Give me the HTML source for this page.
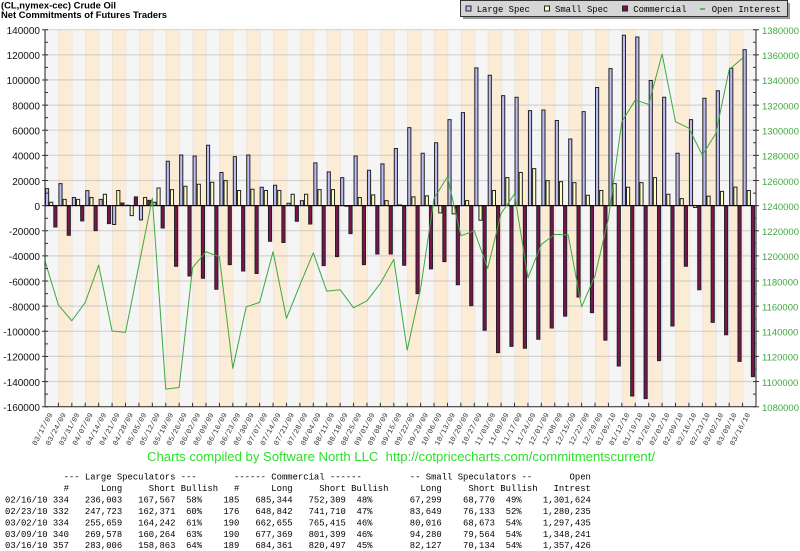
<!DOCTYPE html>
<html><head><meta charset="utf-8"><style>
html,body{margin:0;padding:0;background:#fff;}
svg{display:block;}
.bars rect{vector-effect:non-scaling-stroke;stroke:#222;stroke-width:1;}
.l{fill:#bcbcf4;} .s{fill:#ffffc4;} .c{fill:#7a1450;}
.xl text{font-family:"Liberation Mono",monospace;font-size:7.4px;fill:#333;text-anchor:end;}
.ly text{font-family:"Liberation Sans",sans-serif;font-size:10px;fill:#111;text-anchor:end;}
.ry text{font-family:"Liberation Sans",sans-serif;font-size:9.5px;fill:#3ea83e;}
.tb text{font-family:"Liberation Mono",monospace;font-size:8.9px;fill:#000;white-space:pre;}
.lg text{font-family:"Liberation Mono",monospace;font-size:8.9px;fill:#000;}
</style></head><body>
<svg width="800" height="551" viewBox="0 0 800 551" xmlns="http://www.w3.org/2000/svg">
<defs>
<pattern id="bg" patternUnits="userSpaceOnUse" x="45" y="0" width="26.83" height="551">
<rect x="0" y="0" width="13.415" height="551" fill="#f5f5f5"/>
<rect x="13.415" y="0" width="13.415" height="551" fill="#fdecd5"/>
<rect x="0" y="0" width="0.8" height="551" fill="#e6e6e6"/>
<rect x="13.415" y="0" width="0.8" height="551" fill="#ebe3d6"/>
</pattern>
</defs>
<!-- Title -->
<text x="1" y="8.5" font-family="Liberation Sans, sans-serif" font-size="9" font-weight="bold" textLength="115" lengthAdjust="spacingAndGlyphs" fill="#000">(CL,nymex-cec) Crude Oil</text>
<text x="1" y="18" font-family="Liberation Sans, sans-serif" font-size="9" font-weight="bold" textLength="166" lengthAdjust="spacingAndGlyphs" fill="#000">Net Commitments of Futures Traders</text>

<!-- Legend -->
<g class="lg">
<rect x="463" y="3" width="327" height="16" fill="#9a9a9a"/>
<rect x="460.5" y="0.5" width="327" height="16" fill="#d6d6d6" stroke="#333" stroke-width="1"/>
<rect x="466" y="6" width="5" height="5" fill="#bcbcf4" stroke="#222"/>
<text x="476.7" y="12">Large Spec</text>
<rect x="544.5" y="6" width="5" height="5" fill="#ffffc4" stroke="#222"/>
<text x="555" y="12">Small Spec</text>
<rect x="622.5" y="6" width="5" height="5" fill="#7a1450" stroke="#222"/>
<text x="633.3" y="12">Commercial</text>
<line x1="700" y1="9" x2="705" y2="9" stroke="#3ea83e" stroke-width="1.5"/>
<text x="711.7" y="12">Open Interest</text>
</g>

<!-- Plot background -->
<rect x="45" y="29.7" width="711" height="377" fill="url(#bg)"/>
<!-- horizontal gridlines -->
<g stroke="rgba(170,170,170,0.45)" stroke-width="1.2">
<line x1="45" x2="756" y1="29.7" y2="29.7"/>
<line x1="45" x2="756" y1="54.8" y2="54.8"/>
<line x1="45" x2="756" y1="79.9" y2="79.9"/>
<line x1="45" x2="756" y1="105.1" y2="105.1"/>
<line x1="45" x2="756" y1="130.2" y2="130.2"/>
<line x1="45" x2="756" y1="155.3" y2="155.3"/>
<line x1="45" x2="756" y1="180.5" y2="180.5"/>
<line x1="45" x2="756" y1="230.7" y2="230.7"/>
<line x1="45" x2="756" y1="255.9" y2="255.9"/>
<line x1="45" x2="756" y1="281.0" y2="281.0"/>
<line x1="45" x2="756" y1="306.1" y2="306.1"/>
<line x1="45" x2="756" y1="331.3" y2="331.3"/>
<line x1="45" x2="756" y1="356.4" y2="356.4"/>
<line x1="45" x2="756" y1="381.5" y2="381.5"/>
</g>

<!-- Bars -->
<g class="bars" transform="translate(45 205.6) scale(13.415 -1.25667)">
<g transform="translate(0)"><rect class="l" x=".037" width=".235" y="0" height="13.5"/><rect class="s" x=".347" width=".235" y="0" height="2.7"/><rect class="c" x=".656" width=".235" y="-17" height="17"/></g>
<g transform="translate(1)"><rect class="l" x=".037" width=".235" y="0" height="17.5"/><rect class="s" x=".347" width=".235" y="0" height="5"/><rect class="c" x=".656" width=".235" y="-23.6" height="23.6"/></g>
<g transform="translate(2)"><rect class="l" x=".037" width=".235" y="0" height="6.4"/><rect class="s" x=".347" width=".235" y="0" height="5"/><rect class="c" x=".656" width=".235" y="-12.2" height="12.2"/></g>
<g transform="translate(3)"><rect class="l" x=".037" width=".235" y="0" height="11.9"/><rect class="s" x=".347" width=".235" y="0" height="6.4"/><rect class="c" x=".656" width=".235" y="-19.9" height="19.9"/></g>
<g transform="translate(4)"><rect class="l" x=".037" width=".235" y="0" height="5"/><rect class="s" x=".347" width=".235" y="0" height="9"/><rect class="c" x=".656" width=".235" y="-14.3" height="14.3"/></g>
<g transform="translate(5)"><rect class="l" x=".037" width=".235" y="-15" height="15"/><rect class="s" x=".347" width=".235" y="0" height="12"/><rect class="c" x=".656" width=".235" y="0" height="2.1"/></g>
<g transform="translate(6)"><rect class="l" x=".037" width=".235" y="0" height="0.3"/><rect class="s" x=".347" width=".235" y="-8" height="8"/><rect class="c" x=".656" width=".235" y="0" height="6.9"/></g>
<g transform="translate(7)"><rect class="l" x=".037" width=".235" y="-11.4" height="11.4"/><rect class="s" x=".347" width=".235" y="0" height="6.4"/><rect class="c" x=".656" width=".235" y="0" height="4.2"/></g>
<g transform="translate(8)"><rect class="l" x=".037" width=".235" y="0" height="2.7"/><rect class="s" x=".347" width=".235" y="0" height="14"/><rect class="c" x=".656" width=".235" y="-17.8" height="17.8"/></g>
<g transform="translate(9)"><rect class="l" x=".037" width=".235" y="0" height="35.3"/><rect class="s" x=".347" width=".235" y="0" height="12.7"/><rect class="c" x=".656" width=".235" y="-48.3" height="48.3"/></g>
<g transform="translate(10)"><rect class="l" x=".037" width=".235" y="0" height="40.3"/><rect class="s" x=".347" width=".235" y="0" height="15.4"/><rect class="c" x=".656" width=".235" y="-56" height="56"/></g>
<g transform="translate(11)"><rect class="l" x=".037" width=".235" y="0" height="39.5"/><rect class="s" x=".347" width=".235" y="0" height="17"/><rect class="c" x=".656" width=".235" y="-57.8" height="57.8"/></g>
<g transform="translate(12)"><rect class="l" x=".037" width=".235" y="0" height="48"/><rect class="s" x=".347" width=".235" y="0" height="18.6"/><rect class="c" x=".656" width=".235" y="-66.6" height="66.6"/></g>
<g transform="translate(13)"><rect class="l" x=".037" width=".235" y="0" height="26.3"/><rect class="s" x=".347" width=".235" y="0" height="19.9"/><rect class="c" x=".656" width=".235" y="-47" height="47"/></g>
<g transform="translate(14)"><rect class="l" x=".037" width=".235" y="0" height="39"/><rect class="s" x=".347" width=".235" y="0" height="12"/><rect class="c" x=".656" width=".235" y="-52" height="52"/></g>
<g transform="translate(15)"><rect class="l" x=".037" width=".235" y="0" height="40.3"/><rect class="s" x=".347" width=".235" y="0" height="13"/><rect class="c" x=".656" width=".235" y="-54" height="54"/></g>
<g transform="translate(16)"><rect class="l" x=".037" width=".235" y="0" height="14.6"/><rect class="s" x=".347" width=".235" y="0" height="12"/><rect class="c" x=".656" width=".235" y="-28.4" height="28.4"/></g>
<g transform="translate(17)"><rect class="l" x=".037" width=".235" y="0" height="16.2"/><rect class="s" x=".347" width=".235" y="0" height="12"/><rect class="c" x=".656" width=".235" y="-29.4" height="29.4"/></g>
<g transform="translate(18)"><rect class="l" x=".037" width=".235" y="0" height="1.9"/><rect class="s" x=".347" width=".235" y="0" height="9"/><rect class="c" x=".656" width=".235" y="-12.5" height="12.5"/></g>
<g transform="translate(19)"><rect class="l" x=".037" width=".235" y="0" height="4"/><rect class="s" x=".347" width=".235" y="0" height="9"/><rect class="c" x=".656" width=".235" y="-14.6" height="14.6"/></g>
<g transform="translate(20)"><rect class="l" x=".037" width=".235" y="0" height="34"/><rect class="s" x=".347" width=".235" y="0" height="12.7"/><rect class="c" x=".656" width=".235" y="-47.8" height="47.8"/></g>
<g transform="translate(21)"><rect class="l" x=".037" width=".235" y="0" height="26.8"/><rect class="s" x=".347" width=".235" y="0" height="12.7"/><rect class="c" x=".656" width=".235" y="-40.6" height="40.6"/></g>
<g transform="translate(22)"><rect class="l" x=".037" width=".235" y="0" height="22.3"/><rect class="s" x=".347" width=".235" y="-0.5" height="0.5"/><rect class="c" x=".656" width=".235" y="-22.3" height="22.3"/></g>
<g transform="translate(23)"><rect class="l" x=".037" width=".235" y="0" height="39.5"/><rect class="s" x=".347" width=".235" y="0" height="6.4"/><rect class="c" x=".656" width=".235" y="-47" height="47"/></g>
<g transform="translate(24)"><rect class="l" x=".037" width=".235" y="0" height="28.1"/><rect class="s" x=".347" width=".235" y="0" height="8.5"/><rect class="c" x=".656" width=".235" y="-38.5" height="38.5"/></g>
<g transform="translate(25)"><rect class="l" x=".037" width=".235" y="0" height="33.2"/><rect class="s" x=".347" width=".235" y="0" height="4"/><rect class="c" x=".656" width=".235" y="-38.5" height="38.5"/></g>
<g transform="translate(26)"><rect class="l" x=".037" width=".235" y="0" height="45.4"/><rect class="s" x=".347" width=".235" y="0" height="0.5"/><rect class="c" x=".656" width=".235" y="-47.5" height="47.5"/></g>
<g transform="translate(27)"><rect class="l" x=".037" width=".235" y="0" height="62"/><rect class="s" x=".347" width=".235" y="0" height="6.9"/><rect class="c" x=".656" width=".235" y="-70" height="70"/></g>
<g transform="translate(28)"><rect class="l" x=".037" width=".235" y="0" height="41.7"/><rect class="s" x=".347" width=".235" y="0" height="7.7"/><rect class="c" x=".656" width=".235" y="-50.4" height="50.4"/></g>
<g transform="translate(29)"><rect class="l" x=".037" width=".235" y="0" height="50"/><rect class="s" x=".347" width=".235" y="-5.8" height="5.8"/><rect class="c" x=".656" width=".235" y="-44.6" height="44.6"/></g>
<g transform="translate(30)"><rect class="l" x=".037" width=".235" y="0" height="68.4"/><rect class="s" x=".347" width=".235" y="-6.6" height="6.6"/><rect class="c" x=".656" width=".235" y="-63" height="63"/></g>
<g transform="translate(31)"><rect class="l" x=".037" width=".235" y="0" height="74"/><rect class="s" x=".347" width=".235" y="0" height="4"/><rect class="c" x=".656" width=".235" y="-79.6" height="79.6"/></g>
<g transform="translate(32)"><rect class="l" x=".037" width=".235" y="0" height="109.6"/><rect class="s" x=".347" width=".235" y="-11.7" height="11.7"/><rect class="c" x=".656" width=".235" y="-99.2" height="99.2"/></g>
<g transform="translate(33)"><rect class="l" x=".037" width=".235" y="0" height="103.7"/><rect class="s" x=".347" width=".235" y="0" height="12"/><rect class="c" x=".656" width=".235" y="-117" height="117"/></g>
<g transform="translate(34)"><rect class="l" x=".037" width=".235" y="0" height="87.5"/><rect class="s" x=".347" width=".235" y="0" height="22.3"/><rect class="c" x=".656" width=".235" y="-112" height="112"/></g>
<g transform="translate(35)"><rect class="l" x=".037" width=".235" y="0" height="86.2"/><rect class="s" x=".347" width=".235" y="0" height="26.3"/><rect class="c" x=".656" width=".235" y="-113.5" height="113.5"/></g>
<g transform="translate(36)"><rect class="l" x=".037" width=".235" y="0" height="75.6"/><rect class="s" x=".347" width=".235" y="0" height="29.4"/><rect class="c" x=".656" width=".235" y="-106.4" height="106.4"/></g>
<g transform="translate(37)"><rect class="l" x=".037" width=".235" y="0" height="76.1"/><rect class="s" x=".347" width=".235" y="0" height="19.9"/><rect class="c" x=".656" width=".235" y="-97.4" height="97.4"/></g>
<g transform="translate(38)"><rect class="l" x=".037" width=".235" y="0" height="67.7"/><rect class="s" x=".347" width=".235" y="0" height="19.1"/><rect class="c" x=".656" width=".235" y="-88" height="88"/></g>
<g transform="translate(39)"><rect class="l" x=".037" width=".235" y="0" height="53"/><rect class="s" x=".347" width=".235" y="0" height="18.3"/><rect class="c" x=".656" width=".235" y="-72.7" height="72.7"/></g>
<g transform="translate(40)"><rect class="l" x=".037" width=".235" y="0" height="74.8"/><rect class="s" x=".347" width=".235" y="0" height="8.2"/><rect class="c" x=".656" width=".235" y="-85.2" height="85.2"/></g>
<g transform="translate(41)"><rect class="l" x=".037" width=".235" y="0" height="94"/><rect class="s" x=".347" width=".235" y="0" height="12"/><rect class="c" x=".656" width=".235" y="-107" height="107"/></g>
<g transform="translate(42)"><rect class="l" x=".037" width=".235" y="0" height="109"/><rect class="s" x=".347" width=".235" y="0" height="17.5"/><rect class="c" x=".656" width=".235" y="-127.6" height="127.6"/></g>
<g transform="translate(43)"><rect class="l" x=".037" width=".235" y="0" height="135.6"/><rect class="s" x=".347" width=".235" y="0" height="14.6"/><rect class="c" x=".656" width=".235" y="-151.5" height="151.5"/></g>
<g transform="translate(44)"><rect class="l" x=".037" width=".235" y="0" height="134.2"/><rect class="s" x=".347" width=".235" y="0" height="18.3"/><rect class="c" x=".656" width=".235" y="-153.6" height="153.6"/></g>
<g transform="translate(45)"><rect class="l" x=".037" width=".235" y="0" height="99.5"/><rect class="s" x=".347" width=".235" y="0" height="22.3"/><rect class="c" x=".656" width=".235" y="-123.4" height="123.4"/></g>
<g transform="translate(46)"><rect class="l" x=".037" width=".235" y="0" height="86.2"/><rect class="s" x=".347" width=".235" y="0" height="9"/><rect class="c" x=".656" width=".235" y="-95.8" height="95.8"/></g>
<g transform="translate(47)"><rect class="l" x=".037" width=".235" y="0" height="41.7"/><rect class="s" x=".347" width=".235" y="0" height="5.6"/><rect class="c" x=".656" width=".235" y="-48.3" height="48.3"/></g>
<g transform="translate(48)"><rect class="l" x=".037" width=".235" y="0" height="68.4"/><rect class="s" x=".347" width=".235" y="-1.5" height="1.5"/><rect class="c" x=".656" width=".235" y="-67" height="67"/></g>
<g transform="translate(49)"><rect class="l" x=".037" width=".235" y="0" height="85.4"/><rect class="s" x=".347" width=".235" y="0" height="7.5"/><rect class="c" x=".656" width=".235" y="-92.9" height="92.9"/></g>
<g transform="translate(50)"><rect class="l" x=".037" width=".235" y="0" height="91.4"/><rect class="s" x=".347" width=".235" y="0" height="11.3"/><rect class="c" x=".656" width=".235" y="-102.8" height="102.8"/></g>
<g transform="translate(51)"><rect class="l" x=".037" width=".235" y="0" height="109.3"/><rect class="s" x=".347" width=".235" y="0" height="14.7"/><rect class="c" x=".656" width=".235" y="-124" height="124"/></g>
<g transform="translate(52)"><rect class="l" x=".037" width=".235" y="0" height="124.1"/><rect class="s" x=".347" width=".235" y="0" height="12"/><rect class="c" x=".656" width=".235" y="-136.1" height="136.1"/></g>
</g>

<!-- zero line -->
<line x1="45" x2="756" y1="205.6" y2="205.6" stroke="#000" stroke-width="1"/>

<!-- Open interest line -->
<g transform="translate(45 1763.9) scale(13.415 -1.25667)">
<polyline fill="none" stroke="#3ea83e" stroke-width="1" vector-effect="non-scaling-stroke" stroke-linejoin="round" points="0,1195.9 1,1160.9 2,1148.4 3,1163 4,1192.7 5,1140.2 6,1139.1 7,1192.7 8,1246 9,1094 10,1095.3 11,1190.6 12,1203.3 13,1199.3 14,1110.5 15,1159.5 16,1163 17,1203.3 18,1150.3 19,1176.8 20,1202.5 21,1172 22,1173.1 23,1158.7 24,1164.3 25,1178.1 26,1197.2 27,1125 28,1174.1 29,1245.8 30,1263 31,1216 32,1220 33,1190 34,1233.8 35,1249.2 36,1182.6 37,1209.1 38,1217.1 39,1216.6 40,1159.5 41,1184.2 42,1229.8 43,1306.8 44,1324 45,1320.6 46,1360.6 47,1306.8 48,1301.6 49,1280.2 50,1297.4 51,1348.2 52,1357.4"/>
</g>

<!-- Axes -->
<line x1="45" y1="29.7" x2="45" y2="406.7" stroke="#222" stroke-width="1"/>
<line x1="756" y1="29.7" x2="756" y2="406.7" stroke="#222" stroke-width="1"/>
<line x1="45" y1="406.7" x2="756" y2="406.7" stroke="#222" stroke-width="1"/>
<!-- left ticks (minor + major) -->
<line x1="46.5" y1="29.2" x2="46.5" y2="407.2" stroke="#333" stroke-width="3" stroke-dasharray="1 11.567" stroke-dashoffset="0"/>
<line x1="43.5" y1="29.2" x2="43.5" y2="407.2" stroke="#333" stroke-width="3" stroke-dasharray="1 24.133" stroke-dashoffset="0"/>
<!-- right ticks -->
<line x1="754.5" y1="29.2" x2="754.5" y2="407.2" stroke="#333" stroke-width="3" stroke-dasharray="1 11.567" stroke-dashoffset="0"/>
<line x1="757.5" y1="29.2" x2="757.5" y2="407.2" stroke="#333" stroke-width="3" stroke-dasharray="1 24.133" stroke-dashoffset="0"/>
<!-- bottom ticks -->
<line x1="44.5" y1="404.7" x2="757" y2="404.7" stroke="#333" stroke-width="4" stroke-dasharray="1 12.415" stroke-dashoffset="0"/>

<!-- Left axis labels -->
<g class="ly">
<text x="40" y="34">140000</text>
<text x="40" y="59.1">120000</text>
<text x="40" y="84.2">100000</text>
<text x="40" y="109.4">80000</text>
<text x="40" y="134.5">60000</text>
<text x="40" y="159.6">40000</text>
<text x="40" y="184.8">20000</text>
<text x="40" y="209.9">0</text>
<text x="40" y="235">-20000</text>
<text x="40" y="260.2">-40000</text>
<text x="40" y="285.3">-60000</text>
<text x="40" y="310.4">-80000</text>
<text x="40" y="335.6">-100000</text>
<text x="40" y="360.7">-120000</text>
<text x="40" y="385.8">-140000</text>
<text x="40" y="411">-160000</text>
</g>
<!-- Right axis labels -->
<g class="ry">
<text x="762" y="34">1380000</text>
<text x="762" y="59.1">1360000</text>
<text x="762" y="84.2">1340000</text>
<text x="762" y="109.4">1320000</text>
<text x="762" y="134.5">1300000</text>
<text x="762" y="159.6">1280000</text>
<text x="762" y="184.8">1260000</text>
<text x="762" y="209.9">1240000</text>
<text x="762" y="235">1220000</text>
<text x="762" y="260.2">1200000</text>
<text x="762" y="285.3">1180000</text>
<text x="762" y="310.4">1160000</text>
<text x="762" y="335.6">1140000</text>
<text x="762" y="360.7">1120000</text>
<text x="762" y="385.8">1100000</text>
<text x="762" y="411">1080000</text>
</g>

<!-- X labels -->
<g class="xl">
<text transform="translate(52.7 414.5) rotate(-62)">03/17/09</text>
<text transform="translate(66.1 414.5) rotate(-62)">03/24/09</text>
<text transform="translate(79.5 414.5) rotate(-62)">03/31/09</text>
<text transform="translate(92.9 414.5) rotate(-62)">04/07/09</text>
<text transform="translate(106.4 414.5) rotate(-62)">04/14/09</text>
<text transform="translate(119.8 414.5) rotate(-62)">04/21/09</text>
<text transform="translate(133.2 414.5) rotate(-62)">04/28/09</text>
<text transform="translate(146.6 414.5) rotate(-62)">05/05/09</text>
<text transform="translate(160.0 414.5) rotate(-62)">05/12/09</text>
<text transform="translate(173.4 414.5) rotate(-62)">05/19/09</text>
<text transform="translate(186.9 414.5) rotate(-62)">05/26/09</text>
<text transform="translate(200.3 414.5) rotate(-62)">06/02/09</text>
<text transform="translate(213.7 414.5) rotate(-62)">06/09/09</text>
<text transform="translate(227.1 414.5) rotate(-62)">06/16/09</text>
<text transform="translate(240.5 414.5) rotate(-62)">06/23/09</text>
<text transform="translate(253.9 414.5) rotate(-62)">06/30/09</text>
<text transform="translate(267.4 414.5) rotate(-62)">07/07/09</text>
<text transform="translate(280.8 414.5) rotate(-62)">07/14/09</text>
<text transform="translate(294.2 414.5) rotate(-62)">07/21/09</text>
<text transform="translate(307.6 414.5) rotate(-62)">07/28/09</text>
<text transform="translate(321.0 414.5) rotate(-62)">08/04/09</text>
<text transform="translate(334.4 414.5) rotate(-62)">08/11/09</text>
<text transform="translate(347.8 414.5) rotate(-62)">08/18/09</text>
<text transform="translate(361.3 414.5) rotate(-62)">08/25/09</text>
<text transform="translate(374.7 414.5) rotate(-62)">09/01/09</text>
<text transform="translate(388.1 414.5) rotate(-62)">09/08/09</text>
<text transform="translate(401.5 414.5) rotate(-62)">09/15/09</text>
<text transform="translate(414.9 414.5) rotate(-62)">09/22/09</text>
<text transform="translate(428.3 414.5) rotate(-62)">09/29/09</text>
<text transform="translate(441.7 414.5) rotate(-62)">10/06/09</text>
<text transform="translate(455.2 414.5) rotate(-62)">10/13/09</text>
<text transform="translate(468.6 414.5) rotate(-62)">10/20/09</text>
<text transform="translate(482.0 414.5) rotate(-62)">10/27/09</text>
<text transform="translate(495.4 414.5) rotate(-62)">11/03/09</text>
<text transform="translate(508.8 414.5) rotate(-62)">11/09/09</text>
<text transform="translate(522.2 414.5) rotate(-62)">11/17/09</text>
<text transform="translate(535.7 414.5) rotate(-62)">11/24/09</text>
<text transform="translate(549.1 414.5) rotate(-62)">12/01/09</text>
<text transform="translate(562.5 414.5) rotate(-62)">12/08/09</text>
<text transform="translate(575.9 414.5) rotate(-62)">12/15/09</text>
<text transform="translate(589.3 414.5) rotate(-62)">12/22/09</text>
<text transform="translate(602.7 414.5) rotate(-62)">12/29/09</text>
<text transform="translate(616.1 414.5) rotate(-62)">01/05/10</text>
<text transform="translate(629.6 414.5) rotate(-62)">01/12/10</text>
<text transform="translate(643.0 414.5) rotate(-62)">01/19/10</text>
<text transform="translate(656.4 414.5) rotate(-62)">01/26/10</text>
<text transform="translate(669.8 414.5) rotate(-62)">02/02/10</text>
<text transform="translate(683.2 414.5) rotate(-62)">02/09/10</text>
<text transform="translate(696.6 414.5) rotate(-62)">02/16/10</text>
<text transform="translate(710.1 414.5) rotate(-62)">02/23/10</text>
<text transform="translate(723.5 414.5) rotate(-62)">03/02/10</text>
<text transform="translate(736.9 414.5) rotate(-62)">03/09/10</text>
<text transform="translate(750.3 414.5) rotate(-62)">03/16/10</text>
</g>

<!-- Footer -->
<text x="147" y="461" font-family="Liberation Sans, sans-serif" font-size="12.5" fill="#2ce02c" textLength="508" lengthAdjust="spacingAndGlyphs" style="white-space:pre" xml:space="preserve">Charts compiled by Software North LLC  http://cotpricecharts.com/commitmentscurrent/</text>

<!-- Table -->
<g class="tb">
<text x="5" y="479.6" xml:space="preserve">           --- Large Speculators ---       ------ Commercial ------         -- Small Speculators --       Open</text>
<text x="5" y="490.9" xml:space="preserve">           #      Long     Short Bullish   #      Long     Short Bullish      Long     Short Bullish   Intrest</text>
<text x="5" y="502.3" xml:space="preserve">02/16/10 334   236,003   167,567  58%    185   685,344   752,309  48%       67,299    68,770  49%    1,301,624</text>
<text x="5" y="513.8" xml:space="preserve">02/23/10 332   247,723   162,371  60%    176   648,842   741,710  47%       83,649    76,133  52%    1,280,235</text>
<text x="5" y="525.3" xml:space="preserve">03/02/10 334   255,659   164,242  61%    190   662,655   765,415  46%       80,016    68,673  54%    1,297,435</text>
<text x="5" y="536.8" xml:space="preserve">03/09/10 340   269,578   160,264  63%    190   677,369   801,399  46%       94,280    79,564  54%    1,348,241</text>
<text x="5" y="548.2" xml:space="preserve">03/16/10 357   283,006   158,863  64%    189   684,361   820,497  45%       82,127    70,134  54%    1,357,426</text>
</g>
</svg>
</body></html>
